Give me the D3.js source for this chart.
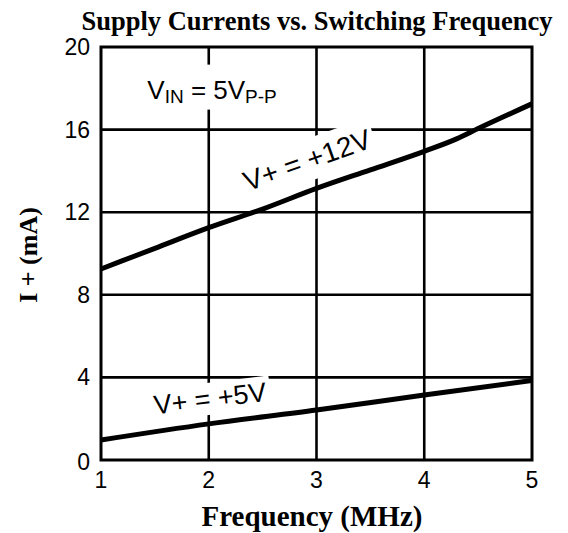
<!DOCTYPE html>
<html><head><meta charset="utf-8">
<script src="https://cdn.jsdelivr.net/npm/d3@7"></script>
<style>body{margin:0;background:#fff}svg{display:block}</style>
</head><body>
<svg id="c" width="568" height="533"></svg>
<script>
const xTicks = [1, 2, 3, 4, 5];
const yTicks = [0, 4, 8, 12, 16, 20];
const freq12 = [1, 1.5, 2, 2.5, 3, 3.5, 4, 4.3, 4.5, 5];
const curr12 = [9.25, 10.25, 11.25, 12.15, 13.15, 14.05, 14.95, 15.55, 16.05, 17.25];
const freq5 = [1, 2, 3, 4, 5];
const curr5 = [0.97, 1.75, 2.42, 3.15, 3.85];
const titleText = "Supply Currents vs. Switching Frequency";
const xTitle = "Frequency (MHz)";
const yTitle = "I + (mA)";

const svg = d3.select("#c");
const L = 101, R = 532, T = 47, B = 460;
const x = d3.scaleLinear().domain([1, 5]).range([L, R]);
const y = d3.scaleLinear().domain([0, 20]).range([B, T]);
const sans = "Liberation Sans, Arial, Helvetica, sans-serif";
const serif = "Liberation Serif, Times New Roman, serif";

// gridlines
const g = svg.append("g");
g.selectAll(".vx").data(xTicks.slice(1, -1)).join("line")
  .attr("x1", d => x(d)).attr("x2", d => x(d)).attr("y1", T).attr("y2", B)
  .attr("stroke", "#000").attr("stroke-width", 2.6);
g.selectAll(".hy").data(yTicks.slice(1, -1)).join("line")
  .attr("x1", L).attr("x2", R).attr("y1", d => y(d)).attr("y2", d => y(d))
  .attr("stroke", "#000").attr("stroke-width", 2.6);

// labels with white backgrounds
function label(px, py, angle, parts, pad, size) {
  const grp = svg.append("g").attr("transform", `translate(${px},${py}) rotate(${angle})`);
  const bg = grp.append("rect").attr("fill", "#fff");
  const t = grp.append("text").attr("font-family", sans).attr("font-size", size).attr("fill", "#000");
  parts.forEach(p => {
    const ts = t.append("tspan").text(p.t);
    if (p.sub) ts.attr("font-size", 19).attr("dy", p.dy);
    else if (p.dy) ts.attr("dy", p.dy);
  });
  const bb = t.node().getBBox();
  bg.attr("x", bb.x - pad[0]).attr("y", bb.y - pad[1]).attr("width", bb.width + 2 * pad[0]).attr("height", bb.height + pad[1] + pad[2]);
}
label(x(1.43), y(17.5), 0, [{t: "V"}, {t: "IN", sub: true, dy: 4}, {t: " = 5V", dy: -4}, {t: "P-P", sub: true, dy: 4}], [4, 10, 3], 26);
label(x(2.36), y(13.0), -19.5, [{t: "V+ = +12V"}], [4, 5, 5], 28);
label(x(1.5), y(2.2), -7, [{t: "V+ = +5V"}], [4, 1, 1], 27);

// curves
const line = d3.line().x(d => x(d[0])).y(d => y(d[1])).curve(d3.curveMonotoneX);
svg.append("path").attr("d", line(freq12.map((f, i) => [f, curr12[i]])))
  .attr("fill", "none").attr("stroke", "#000").attr("stroke-width", 5);
svg.append("path").attr("d", line(freq5.map((f, i) => [f, curr5[i]])))
  .attr("fill", "none").attr("stroke", "#000").attr("stroke-width", 5);

// frame
svg.append("rect").attr("x", L).attr("y", T).attr("width", R - L).attr("height", B - T)
  .attr("fill", "none").attr("stroke", "#000").attr("stroke-width", 3);

// tick labels
svg.selectAll(".yt").data(yTicks).join("text")
  .attr("x", L - 11).attr("y", d => y(d) + (d === 0 ? 10 : 8))
  .attr("text-anchor", "end").attr("font-family", sans).attr("font-size", 23).text(d => d);
svg.selectAll(".xt").data(xTicks).join("text")
  .attr("x", d => x(d)).attr("y", B + 28)
  .attr("text-anchor", "middle").attr("font-family", sans).attr("font-size", 23).text(d => d);

// titles
svg.append("text").attr("x", 317).attr("y", 30).attr("text-anchor", "middle")
  .attr("font-family", serif).attr("font-weight", "bold").attr("font-size", 26.5).text(titleText);
svg.append("text").attr("x", 312).attr("y", 526).attr("text-anchor", "middle")
  .attr("font-family", serif).attr("font-weight", "bold").attr("font-size", 29).text(xTitle);
svg.append("text").attr("transform", "translate(37,255) rotate(-90)").attr("text-anchor", "middle")
  .attr("font-family", serif).attr("font-weight", "bold").attr("font-size", 26).text(yTitle);
</script>
</body></html>
